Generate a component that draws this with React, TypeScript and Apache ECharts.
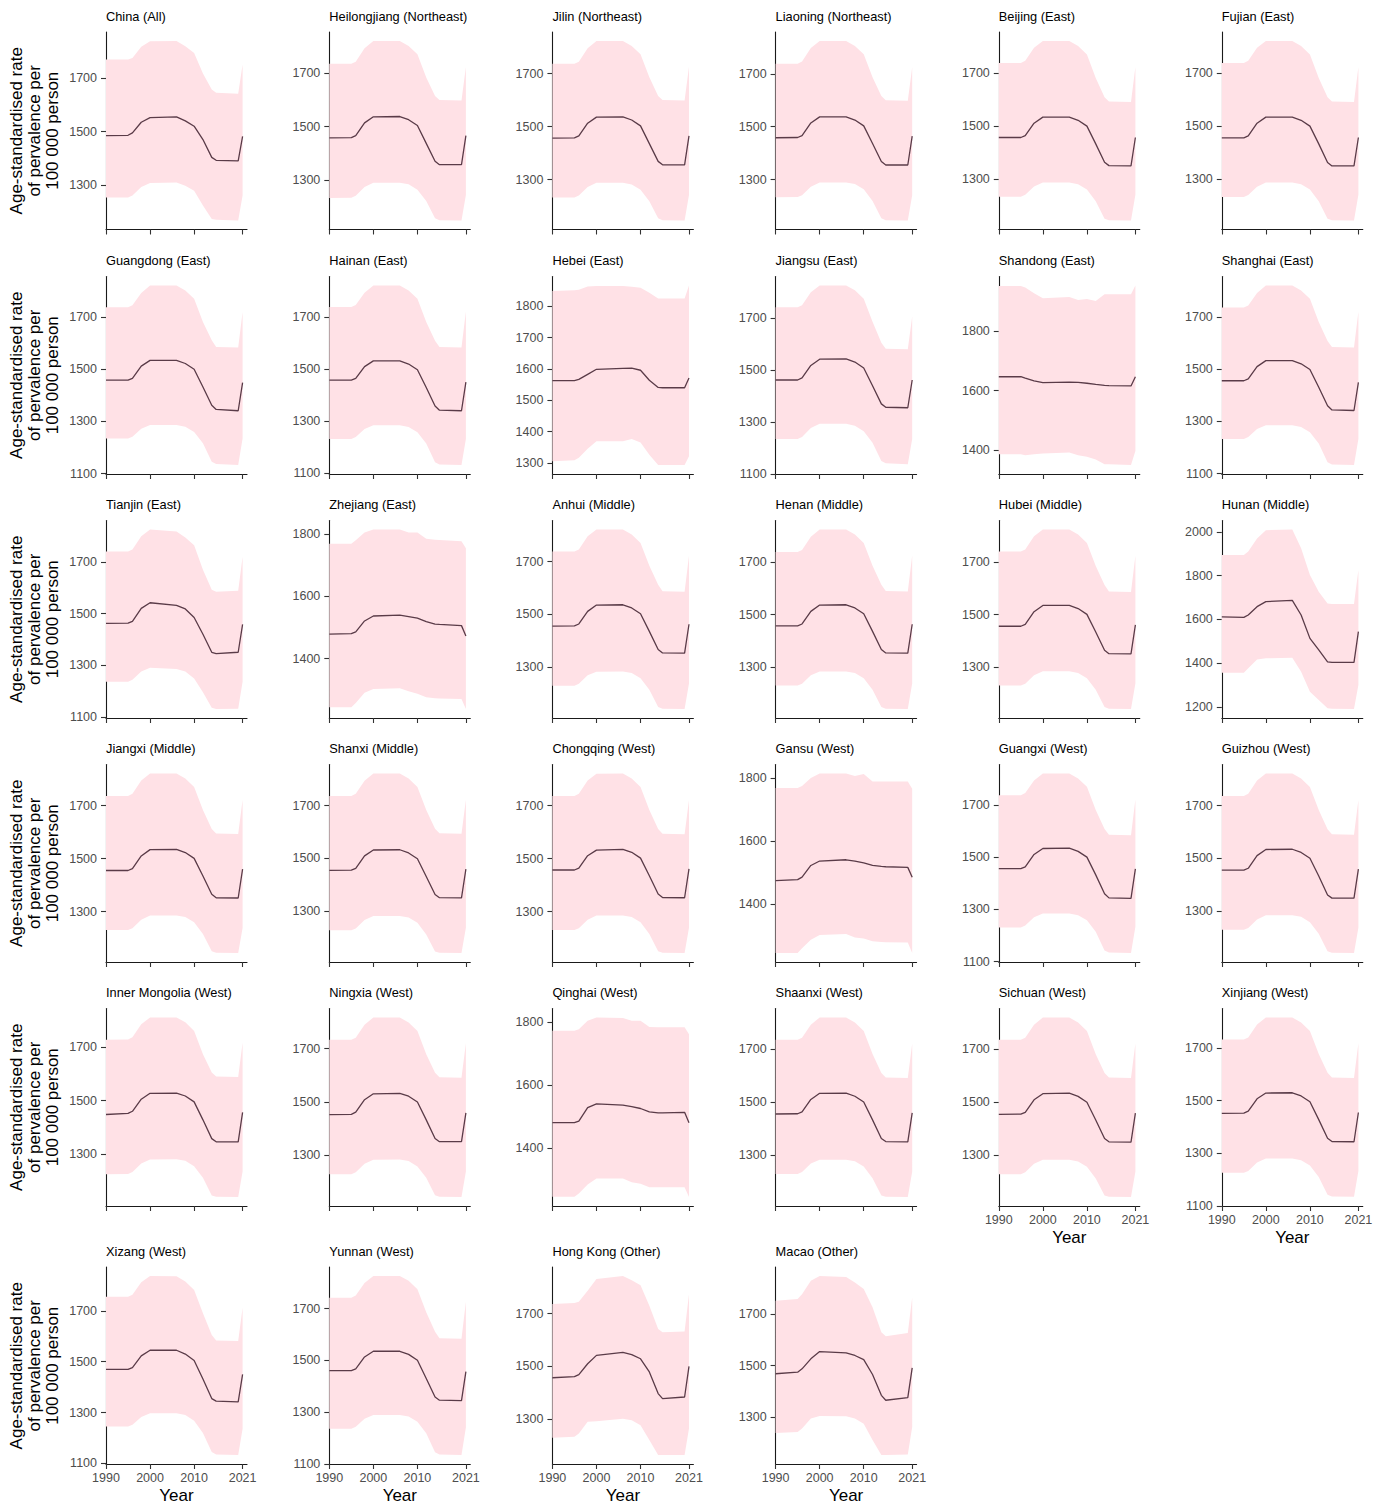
import React, { useEffect, useRef } from "react";
import * as echarts from "echarts";

// Years at which each province series is sampled
const YEARS = [1990, 1995, 1996, 1998, 2000, 2006, 2008, 2010, 2012, 2014, 2015, 2020, 2021];

const PROVINCES = [
  "China (All)", "Heilongjiang (Northeast)", "Jilin (Northeast)", "Liaoning (Northeast)", "Beijing (East)", "Fujian (East)",
  "Guangdong (East)", "Hainan (East)", "Hebei (East)", "Jiangsu (East)", "Shandong (East)", "Shanghai (East)",
  "Tianjin (East)", "Zhejiang (East)", "Anhui (Middle)", "Henan (Middle)", "Hubei (Middle)", "Hunan (Middle)",
  "Jiangxi (Middle)", "Shanxi (Middle)", "Chongqing (West)", "Gansu (West)", "Guangxi (West)", "Guizhou (West)",
  "Inner Mongolia (West)", "Ningxia (West)", "Qinghai (West)", "Shaanxi (West)", "Sichuan (West)", "Xinjiang (West)",
  "Xizang (West)", "Yunnan (West)", "Hong Kong (Other)", "Macao (Other)",
];

// Age-standardised prevalence rate (central estimate)
const RATE: number[][] = [
  [1485, 1486, 1495, 1535, 1552, 1555, 1540, 1520, 1470, 1403, 1392, 1390, 1482],
  [1458, 1459, 1466, 1514, 1537, 1538, 1526, 1504, 1437, 1370, 1357, 1357, 1466],
  [1457, 1458, 1465, 1513, 1536, 1537, 1525, 1503, 1436, 1369, 1356, 1356, 1465],
  [1458, 1459, 1466, 1514, 1537, 1537, 1525, 1503, 1436, 1368, 1355, 1355, 1464],
  [1456, 1456, 1463, 1510, 1533, 1533, 1521, 1499, 1432, 1363, 1350, 1349, 1456],
  [1456, 1456, 1463, 1511, 1534, 1534, 1522, 1500, 1433, 1363, 1350, 1350, 1457],
  [1458, 1458, 1465, 1512, 1534, 1534, 1522, 1500, 1432, 1362, 1346, 1341, 1449],
  [1457, 1457, 1464, 1509, 1531, 1531, 1519, 1497, 1429, 1358, 1342, 1340, 1450],
  [1563, 1563, 1567, 1583, 1599, 1602, 1603, 1596, 1564, 1541, 1540, 1540, 1571],
  [1462, 1462, 1470, 1518, 1542, 1543, 1531, 1508, 1440, 1370, 1357, 1355, 1462],
  [1647, 1647, 1642, 1633, 1627, 1629, 1628, 1625, 1621, 1618, 1617, 1616, 1647],
  [1456, 1456, 1463, 1510, 1533, 1533, 1521, 1499, 1431, 1360, 1344, 1342, 1450],
  [1462, 1463, 1470, 1520, 1542, 1532, 1518, 1485, 1420, 1350, 1345, 1350, 1458],
  [1479, 1480, 1486, 1521, 1537, 1540, 1535, 1530, 1519, 1511, 1510, 1506, 1473],
  [1455, 1456, 1463, 1511, 1535, 1536, 1524, 1502, 1435, 1366, 1353, 1352, 1462],
  [1457, 1457, 1464, 1512, 1536, 1537, 1525, 1503, 1436, 1367, 1354, 1353, 1463],
  [1456, 1456, 1463, 1511, 1535, 1535, 1523, 1501, 1434, 1365, 1352, 1351, 1461],
  [1611, 1609, 1620, 1658, 1681, 1687, 1620, 1513, 1460, 1406, 1403, 1403, 1544],
  [1455, 1455, 1462, 1510, 1534, 1535, 1523, 1501, 1434, 1365, 1352, 1351, 1460],
  [1455, 1456, 1463, 1510, 1532, 1533, 1521, 1499, 1432, 1364, 1352, 1351, 1460],
  [1457, 1457, 1464, 1511, 1532, 1535, 1524, 1502, 1435, 1366, 1353, 1352, 1461],
  [1475, 1478, 1486, 1523, 1537, 1541, 1537, 1531, 1523, 1520, 1519, 1517, 1486],
  [1456, 1456, 1463, 1510, 1533, 1534, 1522, 1500, 1432, 1360, 1344, 1342, 1455],
  [1456, 1456, 1463, 1511, 1534, 1535, 1523, 1501, 1434, 1362, 1350, 1350, 1460],
  [1448, 1452, 1460, 1505, 1527, 1528, 1517, 1495, 1428, 1358, 1346, 1346, 1456],
  [1452, 1453, 1461, 1508, 1530, 1532, 1521, 1499, 1432, 1362, 1350, 1350, 1458],
  [1481, 1481, 1486, 1529, 1541, 1537, 1532, 1526, 1515, 1512, 1512, 1514, 1481],
  [1455, 1456, 1463, 1510, 1533, 1534, 1522, 1500, 1433, 1363, 1351, 1350, 1459],
  [1453, 1454, 1461, 1508, 1531, 1533, 1521, 1499, 1432, 1362, 1350, 1349, 1458],
  [1452, 1453, 1460, 1507, 1529, 1530, 1518, 1496, 1428, 1357, 1345, 1344, 1455],
  [1470, 1470, 1477, 1523, 1545, 1545, 1530, 1505, 1432, 1355, 1345, 1342, 1450],
  [1460, 1460, 1467, 1513, 1535, 1535, 1523, 1500, 1430, 1358, 1346, 1344, 1456],
  [1457, 1461, 1469, 1510, 1542, 1553, 1545, 1529, 1479, 1397, 1378, 1384, 1500],
  [1468, 1474, 1487, 1526, 1554, 1549, 1539, 1523, 1465, 1384, 1365, 1375, 1491],
];

// Upper bound of the uncertainty interval
const UPPER: number[][] = [
  [1770, 1770, 1776, 1818, 1839, 1840, 1820, 1795, 1718, 1658, 1646, 1642, 1752],
  [1736, 1736, 1744, 1795, 1822, 1822, 1803, 1772, 1685, 1615, 1600, 1598, 1724],
  [1737, 1737, 1745, 1796, 1823, 1823, 1804, 1773, 1686, 1616, 1600, 1599, 1726],
  [1738, 1738, 1746, 1797, 1824, 1824, 1805, 1774, 1687, 1616, 1600, 1598, 1725],
  [1737, 1737, 1745, 1794, 1820, 1820, 1801, 1769, 1680, 1608, 1592, 1590, 1722],
  [1738, 1738, 1746, 1795, 1821, 1821, 1802, 1770, 1681, 1609, 1593, 1591, 1723],
  [1738, 1738, 1745, 1792, 1821, 1821, 1802, 1770, 1681, 1611, 1585, 1583, 1719],
  [1738, 1738, 1745, 1792, 1820, 1820, 1801, 1769, 1680, 1608, 1584, 1582, 1720],
  [1849, 1852, 1853, 1864, 1865, 1865, 1863, 1860, 1844, 1825, 1825, 1825, 1867],
  [1742, 1742, 1750, 1800, 1826, 1826, 1807, 1775, 1686, 1605, 1582, 1580, 1706],
  [1953, 1953, 1948, 1929, 1912, 1916, 1906, 1909, 1903, 1925, 1925, 1925, 1955],
  [1737, 1737, 1744, 1792, 1821, 1821, 1802, 1770, 1681, 1608, 1585, 1583, 1720],
  [1741, 1741, 1748, 1800, 1826, 1818, 1795, 1765, 1670, 1592, 1585, 1588, 1720],
  [1769, 1769, 1780, 1805, 1815, 1815, 1805, 1805, 1785, 1782, 1781, 1777, 1755],
  [1738, 1738, 1746, 1796, 1822, 1822, 1803, 1771, 1684, 1612, 1587, 1585, 1722],
  [1737, 1737, 1745, 1795, 1823, 1823, 1804, 1772, 1685, 1613, 1589, 1587, 1724],
  [1739, 1739, 1747, 1797, 1823, 1823, 1804, 1772, 1684, 1612, 1588, 1586, 1723],
  [1894, 1894, 1910, 1970, 2008, 2011, 1925, 1803, 1726, 1673, 1670, 1670, 1826],
  [1737, 1737, 1745, 1795, 1822, 1822, 1803, 1771, 1684, 1612, 1595, 1593, 1723],
  [1736, 1736, 1744, 1794, 1821, 1821, 1802, 1770, 1683, 1612, 1595, 1593, 1722],
  [1737, 1737, 1745, 1795, 1821, 1822, 1803, 1771, 1684, 1612, 1594, 1592, 1722],
  [1768, 1768, 1774, 1800, 1814, 1814, 1806, 1812, 1789, 1789, 1789, 1789, 1766],
  [1737, 1737, 1745, 1793, 1820, 1820, 1801, 1769, 1680, 1608, 1586, 1584, 1720],
  [1737, 1737, 1745, 1795, 1822, 1822, 1803, 1771, 1684, 1611, 1592, 1590, 1722],
  [1727, 1728, 1736, 1785, 1810, 1810, 1792, 1760, 1673, 1605, 1590, 1588, 1716],
  [1733, 1733, 1741, 1790, 1817, 1817, 1798, 1766, 1679, 1609, 1592, 1590, 1720],
  [1773, 1773, 1778, 1805, 1815, 1813, 1805, 1805, 1785, 1784, 1784, 1784, 1762],
  [1735, 1735, 1743, 1792, 1819, 1819, 1800, 1768, 1681, 1610, 1593, 1591, 1720],
  [1734, 1734, 1742, 1791, 1818, 1818, 1799, 1767, 1680, 1609, 1592, 1590, 1720],
  [1732, 1732, 1740, 1789, 1816, 1816, 1797, 1765, 1677, 1606, 1588, 1586, 1718],
  [1755, 1755, 1763, 1812, 1837, 1836, 1815, 1782, 1690, 1605, 1583, 1581, 1712],
  [1742, 1742, 1750, 1799, 1826, 1826, 1807, 1775, 1686, 1610, 1585, 1583, 1726],
  [1737, 1740, 1745, 1787, 1831, 1843, 1827, 1808, 1730, 1642, 1630, 1632, 1774],
  [1752, 1758, 1777, 1829, 1848, 1844, 1823, 1797, 1726, 1629, 1614, 1626, 1764],
];

// Lower bound of the uncertainty interval
const LOWER: number[][] = [
  [1252, 1252, 1260, 1292, 1307, 1309, 1297, 1278, 1222, 1172, 1169, 1166, 1260],
  [1232, 1233, 1240, 1273, 1289, 1289, 1283, 1263, 1220, 1156, 1148, 1147, 1243],
  [1233, 1233, 1240, 1272, 1288, 1288, 1282, 1262, 1219, 1155, 1147, 1146, 1242],
  [1233, 1234, 1241, 1273, 1289, 1289, 1283, 1263, 1219, 1154, 1146, 1145, 1241],
  [1233, 1233, 1240, 1271, 1286, 1286, 1280, 1260, 1216, 1150, 1144, 1143, 1240],
  [1233, 1233, 1240, 1271, 1287, 1287, 1281, 1261, 1217, 1151, 1145, 1144, 1241],
  [1235, 1235, 1241, 1272, 1286, 1286, 1280, 1260, 1216, 1146, 1137, 1133, 1235],
  [1232, 1232, 1239, 1270, 1284, 1284, 1278, 1258, 1214, 1143, 1134, 1132, 1232],
  [1305, 1308, 1316, 1345, 1369, 1369, 1376, 1365, 1326, 1293, 1293, 1293, 1321],
  [1235, 1235, 1242, 1277, 1293, 1293, 1286, 1265, 1220, 1150, 1141, 1138, 1235],
  [1385, 1385, 1382, 1385, 1388, 1391, 1382, 1377, 1368, 1352, 1352, 1349, 1396],
  [1233, 1233, 1240, 1271, 1285, 1285, 1279, 1259, 1215, 1144, 1135, 1133, 1233],
  [1236, 1236, 1243, 1275, 1290, 1285, 1275, 1248, 1195, 1135, 1130, 1131, 1236],
  [1244, 1244, 1257, 1290, 1302, 1305, 1295, 1287, 1276, 1273, 1272, 1270, 1238],
  [1228, 1228, 1236, 1268, 1282, 1283, 1277, 1257, 1213, 1148, 1141, 1140, 1237],
  [1230, 1230, 1237, 1269, 1284, 1284, 1278, 1258, 1214, 1149, 1142, 1141, 1238],
  [1231, 1231, 1238, 1270, 1285, 1285, 1279, 1259, 1215, 1150, 1143, 1142, 1239],
  [1356, 1356, 1376, 1417, 1422, 1425, 1361, 1269, 1231, 1193, 1191, 1190, 1300],
  [1230, 1230, 1237, 1269, 1285, 1285, 1279, 1259, 1215, 1150, 1144, 1143, 1238],
  [1229, 1229, 1236, 1268, 1283, 1283, 1277, 1257, 1213, 1149, 1144, 1143, 1238],
  [1230, 1230, 1237, 1269, 1285, 1285, 1279, 1259, 1215, 1150, 1144, 1143, 1239],
  [1246, 1246, 1261, 1288, 1303, 1306, 1295, 1292, 1283, 1281, 1280, 1279, 1246],
  [1231, 1231, 1238, 1270, 1284, 1284, 1278, 1258, 1214, 1143, 1135, 1133, 1234],
  [1230, 1230, 1237, 1269, 1285, 1285, 1279, 1259, 1215, 1149, 1143, 1142, 1238],
  [1225, 1226, 1233, 1265, 1280, 1281, 1275, 1255, 1212, 1146, 1141, 1140, 1235],
  [1228, 1228, 1235, 1267, 1282, 1283, 1277, 1257, 1214, 1149, 1143, 1142, 1238],
  [1246, 1246, 1256, 1285, 1304, 1304, 1292, 1287, 1276, 1276, 1276, 1276, 1245],
  [1229, 1229, 1236, 1268, 1283, 1283, 1277, 1257, 1213, 1148, 1143, 1142, 1237],
  [1228, 1228, 1235, 1267, 1282, 1282, 1276, 1256, 1212, 1148, 1143, 1142, 1237],
  [1226, 1226, 1233, 1265, 1280, 1280, 1274, 1254, 1210, 1143, 1136, 1135, 1233],
  [1245, 1245, 1252, 1283, 1297, 1297, 1290, 1268, 1220, 1145, 1135, 1133, 1236],
  [1236, 1236, 1243, 1274, 1289, 1289, 1283, 1263, 1218, 1145, 1136, 1134, 1240],
  [1230, 1233, 1246, 1290, 1292, 1302, 1296, 1277, 1221, 1164, 1164, 1164, 1265],
  [1238, 1242, 1255, 1294, 1304, 1303, 1294, 1274, 1210, 1152, 1152, 1154, 1261],
];

// Y tick labels for each panel
const TICKS_A = [1300, 1500, 1700];
const TICKS_B = [1100, 1300, 1500, 1700];
const TICKS_C = [1400, 1600, 1800];
const TICKS_HEBEI = [1300, 1400, 1500, 1600, 1700, 1800];
const TICKS_HUNAN = [1200, 1400, 1600, 1800, 2000];
const Y_TICKS: number[][] = [
  TICKS_A, TICKS_A, TICKS_A, TICKS_A, TICKS_A, TICKS_A,
  TICKS_B, TICKS_B, TICKS_HEBEI, TICKS_B, TICKS_C, TICKS_B,
  TICKS_B, TICKS_C, TICKS_A, TICKS_A, TICKS_A, TICKS_HUNAN,
  TICKS_A, TICKS_A, TICKS_A, TICKS_C, TICKS_B, TICKS_A,
  TICKS_A, TICKS_A, TICKS_C, TICKS_A, TICKS_A, TICKS_B,
  TICKS_B, TICKS_B, TICKS_A, TICKS_A,
];

const X_TICKS = [1990, 2000, 2010, 2021];
const Y_TITLE = "Age-standardised rate\nof pervalence per\n100 000 person";
const X_TITLE = "Year";

// Panel geometry
const COL_X = [106, 329.3, 552.4, 775.6, 998.8, 1221.8];
const ROW_Y = [32, 276.5, 520.5, 764.5, 1008.5, 1267];
const PLOT_W = 141;
const PLOT_H = 197.5;
const NCOL = 6;
const BOTTOM_PANELS = [28, 29, 30, 31, 32, 33];

const FONT = "'Liberation Sans', Arial, Helvetica, sans-serif";
const BAND_COLOR = "#FFE1E6";
const LINE_COLOR = "#5a3b48";
const AXIS_COLOR = "#1a1a1a";
const LABEL_COLOR = "#4d4d4d";

const plain = (v: number) => String(v);

function buildOption() {
  const grids: any[] = [];
  const xAxes: any[] = [];
  const yAxes: any[] = [];
  const series: any[] = [];
  const graphics: any[] = [];

  PROVINCES.forEach((name, i) => {
    const col = i % NCOL;
    const row = Math.floor(i / NCOL);
    const left = COL_X[col];
    const top = ROW_Y[row];
    const isBottom = BOTTOM_PANELS.indexOf(i) >= 0;

    grids.push({ left, top, width: PLOT_W, height: PLOT_H, containLabel: false });

    const lo = Math.min(...LOWER[i]);
    const hi = Math.max(...UPPER[i]);
    const pad = (hi - lo) * 0.05;
    const yMin = Math.min(lo - pad, Math.min(...Y_TICKS[i]));
    const yMax = hi + pad;

    xAxes.push({
      gridIndex: i,
      type: "value",
      min: 1990,
      max: 2022,
      splitLine: { show: false },
      axisLine: { show: true, onZero: false, lineStyle: { color: AXIS_COLOR, width: 1.1 } },
      axisTick: { show: true, length: 5, customValues: X_TICKS, lineStyle: { color: "#333", width: 1.1 } },
      axisLabel: {
        show: isBottom,
        customValues: X_TICKS,
        formatter: plain,
        margin: 7,
        fontSize: 12.5,
        fontFamily: FONT,
        color: LABEL_COLOR,
      },
      name: isBottom ? X_TITLE : "",
      nameLocation: "middle",
      nameGap: 23,
      nameTextStyle: { fontSize: 17, fontFamily: FONT, color: "#000" },
    });

    yAxes.push({
      gridIndex: i,
      type: "value",
      min: yMin,
      max: yMax,
      splitLine: { show: false },
      axisLine: { show: true, onZero: false, lineStyle: { color: AXIS_COLOR, width: 1.1 } },
      axisTick: { show: true, length: 5, customValues: Y_TICKS[i], lineStyle: { color: "#333", width: 1.1 } },
      axisLabel: {
        show: true,
        customValues: Y_TICKS[i],
        formatter: plain,
        margin: 9,
        fontSize: 12.5,
        fontFamily: FONT,
        color: LABEL_COLOR,
      },
    });

    const lower = LOWER[i];
    const upper = UPPER[i];

    // Uncertainty ribbon: one polygon built from the upper and lower bounds
    series.push({
      type: "custom",
      coordinateSystem: "cartesian2d",
      xAxisIndex: i,
      yAxisIndex: i,
      silent: true,
      clip: true,
      z: 1,
      data: YEARS.map((y, k) => [y, lower[k], upper[k]]),
      encode: { x: 0, y: [1, 2] },
      renderItem: (params: any, api: any) => {
        if (params.dataIndex !== 0) return null;
        const topEdge = YEARS.map((y, k) => api.coord([y, upper[k]]));
        const bottomEdge = YEARS.map((y, k) => api.coord([y, lower[k]])).reverse();
        return {
          type: "polygon",
          shape: { points: topEdge.concat(bottomEdge) },
          style: { fill: BAND_COLOR, stroke: null },
        };
      },
    });

    series.push({
      type: "line",
      xAxisIndex: i,
      yAxisIndex: i,
      symbol: "none",
      silent: true,
      lineStyle: { width: 1.3, color: LINE_COLOR },
      data: YEARS.map((y, k) => [y, RATE[i][k]]),
      z: 3,
    });

    graphics.push({
      type: "text",
      x: left,
      y: top - 16,
      silent: true,
      style: {
        text: name,
        fontSize: 12.8,
        fontFamily: FONT,
        fill: "#000",
        align: "left",
        verticalAlign: "middle",
      },
    });
  });

  ROW_Y.forEach((top) => {
    graphics.push({
      type: "text",
      x: 34,
      y: top + PLOT_H / 2,
      rotation: Math.PI / 2,
      silent: true,
      style: {
        text: Y_TITLE,
        fontSize: 17,
        lineHeight: 18,
        fontFamily: FONT,
        fill: "#000",
        align: "center",
        verticalAlign: "middle",
      },
    });
  });

  return {
    animation: false,
    backgroundColor: "#ffffff",
    grid: grids,
    xAxis: xAxes,
    yAxis: yAxes,
    series,
    graphic: { elements: graphics },
  };
}

export default function App() {
  const ref = useRef<HTMLDivElement>(null);

  useEffect(() => {
    document.body.style.margin = "0";
    if (!ref.current) return;
    const chart = echarts.init(ref.current, undefined, { renderer: "svg" });
    chart.setOption(buildOption() as any);
    return () => {
      chart.dispose();
    };
  }, []);

  return <div ref={ref} style={{ width: 1378, height: 1505 }} />;
}
